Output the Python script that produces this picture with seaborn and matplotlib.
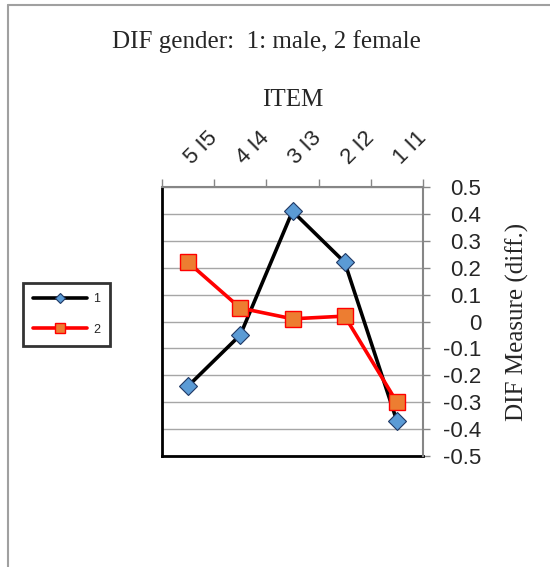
import numpy as np
import pandas as pd
import matplotlib
matplotlib.use("Agg")
import matplotlib.pyplot as plt
from matplotlib.lines import Line2D
import seaborn as sns

# ---- data ----
items = ["5 I5", "4 I4", "3 I3", "2 I2", "1 I1"]
series_names = ["1", "2"]
dif_1 = [-0.24, -0.05, 0.41, 0.22, -0.37]
dif_2 = [0.22, 0.05, 0.01, 0.02, -0.30]
y_ticks = [0.5, 0.4, 0.3, 0.2, 0.1, 0.0, -0.1, -0.2, -0.3, -0.4, -0.5]

title_text = "DIF gender:  1: male, 2 female"
x_title = "ITEM"
y_title = "DIF Measure (diff.)"

sns.set_theme(style="white")
SERIF = ["Liberation Serif", "DejaVu Serif"]
SANS = ["Liberation Sans", "DejaVu Sans"]
plt.rcParams["font.family"] = SANS

W, H = 550, 567
fig = plt.figure(figsize=(W / 100, H / 100), dpi=100)
fig.patch.set_facecolor("white")

L, R, T, B = 162, 423, 187, 456
ax = fig.add_axes([L / W, 1 - B / H, (R - L) / W, (B - T) / H])
ax.set_facecolor("white")

df = pd.DataFrame({"item": items * 2,
                   "value": dif_1 + dif_2,
                   "series": [series_names[0]] * len(items) + [series_names[1]] * len(items)})

styles = {
    "1": dict(color="black", marker="D", markerfacecolor="#5B9BD5",
              markeredgecolor="#1F3864", markersize=9, markeredgewidth=0.8, linewidth=2.6),
    "2": dict(color="#FF0000", marker="s", markerfacecolor="#ED7D31",
              markeredgecolor="#FF0000", markersize=11, markeredgewidth=1.0, linewidth=2.6),
}
for name in series_names:
    sub = df[df["series"] == name]
    sns.lineplot(data=sub, x="item", y="value", sort=False, ax=ax,
                 label=name, legend=False, zorder=3, **styles[name])

n = len(items)
ax.set_xlim(-0.5, n - 0.5)
ax.set_ylim(min(y_ticks), max(y_ticks))

# x axis on top: tick marks at category boundaries, labels at centers
ax.xaxis.tick_top()
ax.set_xticks(np.arange(n + 1) - 0.5)
ax.set_xticklabels([])
ax.set_xticks(np.arange(n), minor=True)
ax.set_xticklabels(items, minor=True, rotation=45, ha="left", va="center",
                   rotation_mode="anchor", fontsize=16)
ax.tick_params(axis="x", which="major", direction="out", length=6, width=1,
               color="#868686", top=True, bottom=False)
ax.tick_params(axis="x", which="minor", length=0, pad=19, top=True, bottom=False)
ax.xaxis.set_label_position("top")
ax.set_xlabel(x_title, fontsize=18, family=SERIF)
ax.xaxis.set_label_coords(0.5, 1.30)

# y axis on right
ax.yaxis.tick_right()
ax.set_yticks(y_ticks)
ax.set_yticklabels(["%g" % v if v != 0 else "0" for v in y_ticks], fontsize=16)
for lab in ax.get_yticklabels():
    lab.set_ha("right")
ax.tick_params(axis="y", direction="out", length=5, width=1, color="#868686",
               pad=37, right=True, left=False)
ax.yaxis.set_label_position("right")
ax.set_ylabel(y_title, fontsize=18, family=SERIF)
ax.yaxis.set_label_coords(1.315, 0.5)

ax.grid(axis="y", color="#A6A6A6", linewidth=1)
ax.grid(axis="x", visible=False)
ax.set_axisbelow(True)

for side in ["left", "bottom"]:
    ax.spines[side].set_color("black")
    ax.spines[side].set_linewidth(2)
for side in ["top", "right"]:
    ax.spines[side].set_color("#868686")
    ax.spines[side].set_linewidth(1.5)
    ax.spines[side].set_zorder(4)

# title
fig.text(266.5 / W, 1 - 42 / H, title_text, ha="center", va="center",
         fontsize=18, family=SERIF)

# legend
handles, labels = ax.get_legend_handles_labels()
leg = fig.legend(handles, labels, loc="upper left",
                 bbox_to_anchor=(23 / W, 1 - 283 / H), bbox_transform=fig.transFigure,
                 fontsize=9, frameon=True, fancybox=False, handlelength=4.3,
                 handletextpad=0.5, labelspacing=1.5, borderpad=0.8, borderaxespad=0,
                 numpoints=1, markerscale=0.6)
leg.get_frame().set_edgecolor("black")
leg.get_frame().set_linewidth(2)
leg.get_frame().set_facecolor("white")

# outer chart border
fig.add_artist(Line2D([8 / W, 8 / W], [0, 1 - 5 / H], transform=fig.transFigure,
                      color="#A0A0A0", linewidth=1.5))
fig.add_artist(Line2D([8 / W, 1], [1 - 5 / H, 1 - 5 / H], transform=fig.transFigure,
                      color="#A0A0A0", linewidth=1.5))

fig.savefig("out.png", dpi=100, facecolor="white")
